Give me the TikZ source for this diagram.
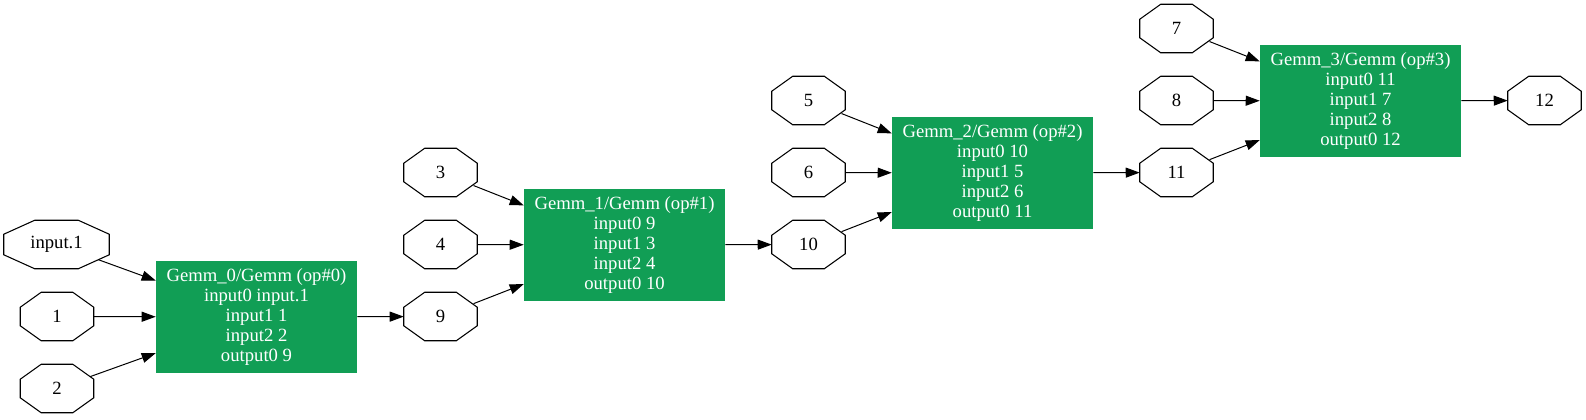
\documentclass[tikz,border=0pt]{standalone}
\usepackage{fontspec}
\setmainfont{Liberation Serif}
\usetikzlibrary{arrows.meta}
\definecolor{gemmgreen}{HTML}{119E55}
\begin{document}
\begin{tikzpicture}[x=0.75pt,y=-0.75pt,
  every node/.style={font=\fontsize{14pt}{15pt}\selectfont},
  oct/.style={minimum width=54.75pt, minimum height=36pt, inner sep=0pt},
  octwide/.style={oct, minimum width=78.75pt},
  gemm/.style={fill=gemmgreen, text=white, align=center, minimum width=150.75pt, minimum height=84pt, inner sep=0pt},
  edge/.style={draw=black, line width=0.75pt, -{Triangle[length=10.5pt,width=7.5pt]}},
  diag/.style={edge, shorten <=-3pt},
  diagwide/.style={edge, shorten <=-9pt},
  outline/.style={draw=black, line width=0.8pt, line join=miter}
]
\useasboundingbox (0,0) rectangle (1586,419);
% input octagons
\node[octwide] (in1) at (56.5,244.5) {input.1};
\node[oct] (n1) at (57,316.5) {1};
\node[oct] (n2) at (57,388.5) {2};
\node[gemm] (g0) at (256.5,317) {Gemm\_0/Gemm (op\#0)\\input0 input.1\\input1 1\\input2 2\\output0 9};
\node[oct] (n3) at (440.5,172.5) {3};
\node[oct] (n4) at (440.5,244.5) {4};
\node[oct] (n9) at (440.5,316.5) {9};
\node[gemm] (g1) at (624.5,245) {Gemm\_1/Gemm (op\#1)\\input0 9\\input1 3\\input2 4\\output0 10};
\node[oct] (n5) at (808.5,100.5) {5};
\node[oct] (n6) at (808.5,172.5) {6};
\node[oct] (n10) at (808.5,244.5) {10};
\node[gemm] (g2) at (992.5,173) {Gemm\_2/Gemm (op\#2)\\input0 10\\input1 5\\input2 6\\output0 11};
\node[oct] (n7) at (1176.5,28.5) {7};
\node[oct] (n8) at (1176.5,100.5) {8};
\node[oct] (n11) at (1176.5,172.5) {11};
\node[gemm] (g3) at (1360.5,101) {Gemm\_3/Gemm (op\#3)\\input0 11\\input1 7\\input2 8\\output0 12};
\node[oct] (n12) at (1544.5,100.5) {12};
% octagon outlines
\foreach \n/\a/\b in {in1/23.25pt/10.5pt, n1/15.75pt/11.25pt, n2/15.75pt/11.25pt, n3/15.75pt/11.25pt, n4/15.75pt/11.25pt, n9/15.75pt/11.25pt, n5/15.75pt/11.25pt, n6/15.75pt/11.25pt, n10/15.75pt/11.25pt, n7/15.75pt/11.25pt, n8/15.75pt/11.25pt, n11/15.75pt/11.25pt, n12/15.75pt/11.25pt}{
  \draw[outline] ([xshift=\a]\n.north west) -- ([xshift=-\a]\n.north east) -- ([yshift=-\b]\n.north east) -- ([yshift=\b]\n.south east) -- ([xshift=-\a]\n.south east) -- ([xshift=\a]\n.south west) -- ([yshift=\b]\n.south west) -- ([yshift=-\b]\n.north west) -- cycle;
}
% edges
\draw[diagwide] (in1) -- (g0);
\draw[edge] (n1) -- (g0);
\draw[diag] (n2) -- (g0);
\draw[edge] (g0) -- (n9);
\draw[diag] (n3) -- (g1);
\draw[edge] (n4) -- (g1);
\draw[diag] (n9) -- (g1);
\draw[edge] (g1) -- (n10);
\draw[diag] (n5) -- (g2);
\draw[edge] (n6) -- (g2);
\draw[diag] (n10) -- (g2);
\draw[edge] (g2) -- (n11);
\draw[diag] (n7) -- (g3);
\draw[edge] (n8) -- (g3);
\draw[diag] (n11) -- (g3);
\draw[edge] (g3) -- (n12);
\end{tikzpicture}
\end{document}
